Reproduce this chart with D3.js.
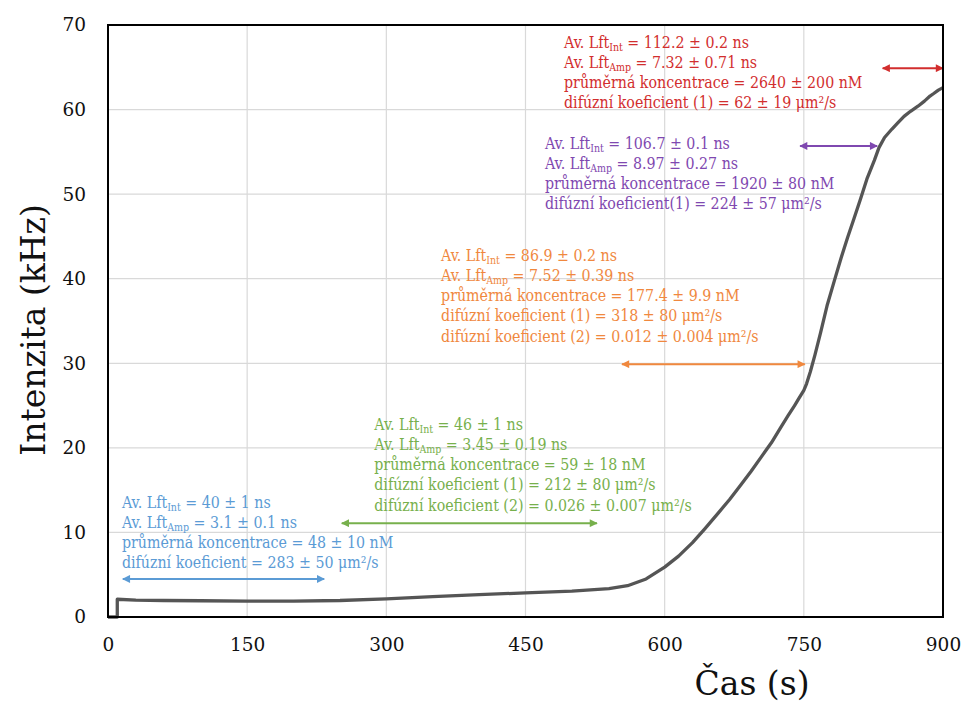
<!DOCTYPE html>
<html><head><meta charset="utf-8">
<script src="https://cdn.jsdelivr.net/npm/d3@7"></script>
<style>
html,body{margin:0;padding:0;background:#fff;}
svg{display:block;}
text{font-family:"DejaVu Serif",serif;}
.ann{font-family:"DejaVu Serif Condensed","DejaVu Serif",serif;font-stretch:condensed;}
</style></head>
<body>
<svg id="c" width="965" height="702"></svg>
<script>
// ---- data ----
const timeS = [0, 10, 10, 30, 60, 100, 150, 200, 250, 300, 350, 400, 450, 500, 540, 560, 580, 600, 615, 630, 643, 657, 670, 682, 693, 704, 715, 725, 733, 740, 745, 750, 753, 757, 762, 768, 775, 783, 790, 797, 804, 811, 818, 826, 831, 837, 845, 851, 858, 865, 873, 880, 886, 890, 895, 900];
const intensityKHz = [0, 0, 2.1, 2.0, 1.95, 1.92, 1.88, 1.88, 1.95, 2.15, 2.4, 2.65, 2.85, 3.05, 3.35, 3.7, 4.5, 5.9, 7.2, 8.8, 10.4, 12.2, 13.9, 15.6, 17.2, 18.9, 20.6, 22.4, 23.8, 25.0, 25.9, 26.8, 27.6, 29.0, 31.0, 33.6, 36.8, 39.8, 42.4, 44.8, 47.1, 49.4, 51.8, 54.0, 55.5, 56.7, 57.7, 58.4, 59.2, 59.8, 60.4, 61.0, 61.6, 61.9, 62.3, 62.6];
const xTicks = [0, 150, 300, 450, 600, 750, 900];
const yTicks = [0, 10, 20, 30, 40, 50, 60, 70];
const xTitle = "Čas (s)";
const yTitle = "Intenzita (kHz)";
const groupNames = ["red", "purple", "orange", "green", "blue"];
const rangeStart = [835, 746, 554, 252, 16];
const rangeEnd = [900, 829, 751, 527, 233];
const rangeLevel = [64.9, 55.7, 29.9, 11.1, 4.5];
const lftInt = ["112.2 ± 0.2 ns", "106.7 ± 0.1 ns", "86.9 ± 0.2 ns", "46 ± 1 ns", "40 ± 1 ns"];
const lftAmp = ["7.32 ± 0.71 ns", "8.97 ± 0.27 ns", "7.52 ± 0.39 ns", "3.45 ± 0.19 ns", "3.1 ± 0.1 ns"];
const concentration = ["průměrná koncentrace = 2640 ± 200 nM", "průměrná koncentrace = 1920 ± 80 nM", "průměrná koncentrace = 177.4 ± 9.9 nM", "průměrná koncentrace = 59 ± 18 nM", "průměrná koncentrace = 48 ± 10 nM"];
const diffusion1 = ["difúzní koeficient (1) = 62 ± 19 μm²/s", "difúzní koeficient(1) = 224 ± 57 μm²/s", "difúzní koeficient (1) = 318 ± 80 μm²/s", "difúzní koeficient (1) = 212 ± 80 μm²/s", "difúzní koeficient = 283 ± 50 μm²/s"];
const diffusion2 = [null, null, "difúzní koeficient (2) = 0.012 ± 0.004 μm²/s", "difúzní koeficient (2) = 0.026 ± 0.007 μm²/s", null];

// ---- layout / style ----
const colors = {red: "#d22e2e", purple: "#7f48b0", orange: "#f0883e", green: "#77b04c", blue: "#5b9bd5"};
const textPos = [ // left x in data units, first line center y in px
  {x: 491.5, y: 42}, {x: 471, y: 143}, {x: 359, y: 255}, {x: 287, y: 424}, {x: 15, y: 502}
];
const M = {left: 108, top: 25, right: 943, bottom: 617};
const svg = d3.select("#c");
const x = d3.scaleLinear().domain([0, 900]).range([M.left, M.right]);
const y = d3.scaleLinear().domain([0, 70]).range([M.bottom, M.top]);

// gridlines
svg.append("g").selectAll("line.h").data(yTicks).join("line")
  .attr("x1", M.left).attr("x2", M.right).attr("y1", d => y(d)).attr("y2", d => y(d))
  .attr("stroke", "#d9d9d9").attr("stroke-width", 1.2);
svg.append("g").selectAll("line.v").data(xTicks).join("line")
  .attr("y1", M.top).attr("y2", M.bottom).attr("x1", d => x(d)).attr("x2", d => x(d))
  .attr("stroke", "#d9d9d9").attr("stroke-width", 1.2);

// axes (labels only)
const xAxis = svg.append("g").attr("transform", `translate(0,${M.bottom})`)
  .call(d3.axisBottom(x).tickValues(xTicks).tickSize(0).tickPadding(21).tickFormat(d3.format("d")));
const yAxis = svg.append("g").attr("transform", `translate(${M.left},0)`)
  .call(d3.axisLeft(y).tickValues(yTicks).tickSize(0).tickPadding(22).tickFormat(d3.format("d")));
[xAxis, yAxis].forEach(a => {
  a.select(".domain").remove();
  a.selectAll("text").attr("font-family", "DejaVu Serif").attr("font-size", 18.5).attr("fill", "#111");
});

// annotations
const arrowDefs = svg.append("defs");
groupNames.forEach(g => {
  ["s", "e"].forEach(k => {
    arrowDefs.append("marker").attr("id", `m${k}-${g}`)
      .attr("viewBox", "0 0 10 10").attr("refX", 9).attr("refY", 5)
      .attr("markerWidth", 4.5).attr("markerHeight", 4).attr("markerUnits", "strokeWidth")
      .attr("orient", k === "e" ? "auto" : "auto-start-reverse")
      .append("path").attr("d", "M0,0 L10,5 L0,10 z").attr("fill", colors[g]);
  });
});
groupNames.forEach((g, i) => {
  svg.append("line")
    .attr("x1", x(rangeStart[i])).attr("x2", x(rangeEnd[i]))
    .attr("y1", y(rangeLevel[i])).attr("y2", y(rangeLevel[i]))
    .attr("stroke", colors[g]).attr("stroke-width", 2)
    .attr("marker-start", `url(#ms-${g})`).attr("marker-end", `url(#me-${g})`);
  const lines = [["Int", lftInt[i]], ["Amp", lftAmp[i]], [null, concentration[i]], [null, diffusion1[i]]];
  if (diffusion2[i]) lines.push([null, diffusion2[i]]);
  const t = svg.append("text").attr("class", "ann").attr("fill", colors[g]).attr("font-size", 15.8);
  lines.forEach((ln, j) => {
    const yy = textPos[i].y + j * 20.3 + 5.5;
    if (ln[0]) {
      t.append("tspan").attr("x", x(textPos[i].x)).attr("y", yy).text("Av. Lft");
      t.append("tspan").attr("font-size", 10.5).attr("dy", 3).text(ln[0]);
      t.append("tspan").attr("dy", -3).text(" = " + ln[1]);
    } else {
      t.append("tspan").attr("x", x(textPos[i].x)).attr("y", yy).text(ln[1]);
    }
  });
});

// data line
svg.append("path").datum(timeS.map((t, i) => [t, intensityKHz[i]]))
  .attr("fill", "none").attr("stroke", "#555").attr("stroke-width", 3.3)
  .attr("stroke-linejoin", "round")
  .attr("d", d3.line().x(d => x(d[0])).y(d => y(d[1])));

// plot frame
svg.append("rect").attr("x", M.left).attr("y", M.top)
  .attr("width", M.right - M.left).attr("height", M.bottom - M.top)
  .attr("fill", "none").attr("stroke", "#000").attr("stroke-width", 2);

// axis titles
svg.append("text").attr("x", 752).attr("y", 695).attr("text-anchor", "middle")
  .attr("font-size", 33).attr("fill", "#111").text(xTitle);
svg.append("text").attr("transform", "translate(45,330) rotate(-90)").attr("text-anchor", "middle")
  .attr("font-size", 33).attr("fill", "#111").text(yTitle);
</script>
</body></html>
